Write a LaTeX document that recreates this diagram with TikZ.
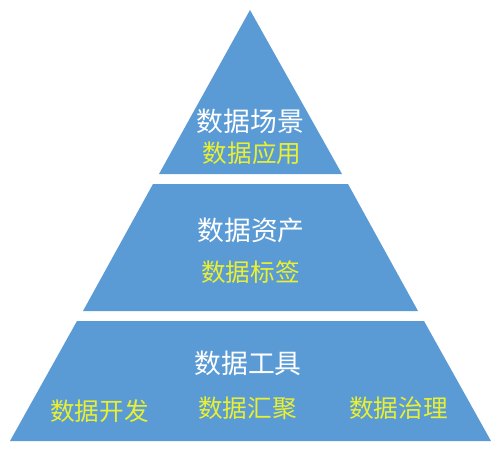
\documentclass[tikz,border=0pt]{standalone}
\usepackage{fontspec}
\newfontfamily\cjk{Noto Sans CJK SC}
\definecolor{tierblue}{RGB}{91,155,213}
\definecolor{tieryellow}{RGB}{232,240,48}
\begin{document}
\begin{tikzpicture}[x=1pt,y=-1pt,
  tier/.style={fill=tierblue,draw=none},
  title/.style={text=white,font=\cjk\fontsize{26.8}{30}\selectfont,inner sep=0pt,anchor=center},
  sub/.style={text=tieryellow,font=\cjk\fontsize{24.6}{28}\selectfont,inner sep=0pt,anchor=center}]
\useasboundingbox (0,0) rectangle (499,461);
\fill[white] (0,0) rectangle (499,461);
% tiers
\path[tier] (250,10) -- (342,174) -- (159,174) -- cycle;
\path[tier] (153,184) -- (348,184) -- (418,311) -- (83,311) -- cycle;
\path[tier] (77,321) -- (424,321) -- (491,441) -- (10,441) -- cycle;
% texts
\node[title] (t1) at (250.5,121) {数据场景};
\node[sub] (s1) at (252,153) {数据应用};
\node[title] (t2) at (251,230) {数据资产};
\node[sub] (s2) at (250.5,272) {数据标签};
\node[title] (t3) at (248,363) {数据工具};
\node[sub] (s3a) at (99.5,411) {数据开发};
\node[sub] (s3b) at (247.5,408) {数据汇聚};
\node[sub] (s3c) at (398.5,408) {数据治理};
\end{tikzpicture}
\end{document}
